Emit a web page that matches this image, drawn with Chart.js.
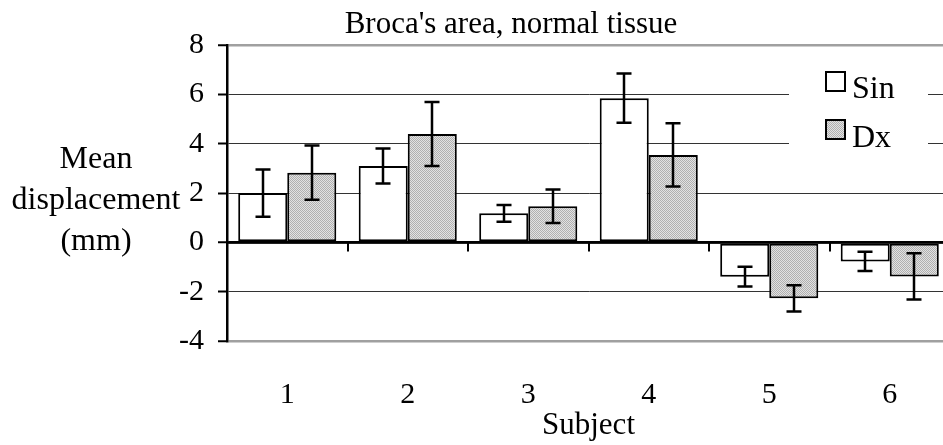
<!DOCTYPE html>
<html><head><meta charset="utf-8">
<script src="https://cdn.jsdelivr.net/npm/chart.js@4.4.0/dist/chart.umd.min.js"></script>
<style>
html,body{margin:0;padding:0;background:#fff;overflow:hidden;width:943px;height:445px}
#wrap{position:relative;width:960px;height:445px}
</style></head>
<body><div id="wrap"><canvas id="c" width="960" height="445"></canvas></div>
<script>
const categories = ['1', '2', '3', '4', '5', '6'];
const sinValues = [2.0, 3.1, 1.18, 5.85, -1.39, -0.77];
const sinErrors = [0.96, 0.71, 0.34, 1.0, 0.4, 0.39];
const dxValues = [2.83, 4.4, 1.47, 3.55, -2.27, -1.38];
const dxErrors = [1.1, 1.3, 0.68, 1.28, 0.53, 0.94];
const yTicks = [-4, -2, 0, 2, 4, 6, 8];
const seriesNames = ['Sin', 'Dx'];
const chartTitle = "Broca's area, normal tissue";
const xTitle = 'Subject';
const yTitleLines = ['Mean', 'displacement', '(mm)'];

const F = "'Liberation Serif', 'Times New Roman', serif";
const canvas = document.getElementById('c');
const ctx = canvas.getContext('2d');

function makePattern() {
  const p = document.createElement('canvas');
  p.width = 2; p.height = 2;
  const g = p.getContext('2d');
  g.fillStyle = '#e2e2e2'; g.fillRect(0, 0, 2, 2);
  g.fillStyle = '#b0b0b0'; g.fillRect(0, 0, 1, 1); g.fillRect(1, 1, 1, 1);
  return ctx.createPattern(p, 'repeat');
}
const dxFill = makePattern();

const errorBars = {
  id: 'errorBars',
  afterDatasetsDraw(chart) {
    const c = chart.ctx, ys = chart.scales.y;
    c.save();
    c.strokeStyle = '#000'; c.lineWidth = 2.5;
    chart.data.datasets.forEach((ds, di) => {
      const meta = chart.getDatasetMeta(di);
      meta.data.forEach((el, i) => {
        const v = ds.data[i], e = ds.errors[i];
        const x = Math.round(el.x);
        const y1 = ys.getPixelForValue(v + e), y2 = ys.getPixelForValue(v - e);
        c.beginPath();
        c.moveTo(x, y1); c.lineTo(x, y2);
        c.moveTo(x - 7.5, y1); c.lineTo(x + 7.5, y1);
        c.moveTo(x - 7.5, y2); c.lineTo(x + 7.5, y2);
        c.stroke();
      });
    });
    c.restore();
  }
};

const axisExtras = {
  id: 'axisExtras',
  afterDatasetsDraw(chart) {
    const c = chart.ctx, xs = chart.scales.x, ys = chart.scales.y;
    const y0 = ys.getPixelForValue(0);
    const w = xs.getPixelForValue(1) - xs.getPixelForValue(0);
    c.save();
    c.strokeStyle = '#000'; c.lineWidth = 2.5;
    c.beginPath();
    c.moveTo(chart.chartArea.left, y0); c.lineTo(chart.chartArea.right, y0);
    c.stroke();
    c.lineWidth = 2;
    c.beginPath();
    for (let i = 1; i <= categories.length; i++) {
      const bx = Math.round(xs.getPixelForValue(i - 1) + w / 2);
      c.moveTo(bx, y0); c.lineTo(bx, y0 + 9);
    }
    c.stroke();
    // y title (horizontal, multi-line)
    c.fillStyle = '#000';
    c.font = "32px " + F;
    c.textAlign = 'center'; c.textBaseline = 'alphabetic';
    const base = [168, 209, 250];
    yTitleLines.forEach((t, k) => c.fillText(t, 96, base[k]));
    c.restore();
  }
};

const legendBox = {
  id: 'legendBox',
  afterDatasetsDraw(chart) {
    const c = chart.ctx;
    c.save();
    c.fillStyle = '#fff';
    c.fillRect(789, 58, 139, 98);
    const rows = [{y: 72, base: 98}, {y: 120, base: 147}];
    chart.data.datasets.forEach((ds, i) => {
      const r = rows[i];
      c.fillStyle = ds.backgroundColor;
      c.fillRect(826, r.y, 19, 19);
      c.strokeStyle = '#000'; c.lineWidth = 2;
      c.strokeRect(826, r.y, 19, 19);
      c.fillStyle = '#000';
      c.font = "32px " + F;
      c.textAlign = 'left'; c.textBaseline = 'alphabetic';
      c.fillText(ds.label, 852, r.base);
    });
    c.restore();
  }
};

new Chart(ctx, {
  type: 'bar',
  data: {
    labels: categories,
    datasets: [
      {label: seriesNames[0], data: sinValues, errors: sinErrors, backgroundColor: '#ffffff', borderColor: '#000', borderWidth: 2, borderSkipped: false},
      {label: seriesNames[1], data: dxValues, errors: dxErrors, backgroundColor: dxFill, borderColor: '#000', borderWidth: 2, borderSkipped: false}
    ]
  },
  options: {
    responsive: false,
    animation: false,
    devicePixelRatio: 1,
    layout: {padding: {left: 72, right: 10, top: 0, bottom: 0}},
    datasets: {bar: {categoryPercentage: 0.814, barPercentage: 1}},
    plugins: {
      legend: {display: false},
      tooltip: {enabled: false},
      title: {display: true, text: chartTitle, color: '#000', font: {family: F, size: 31, weight: 'normal', lineHeight: 1.2}, padding: {top: 6, bottom: 2}}
    },
    scales: {
      x: {
        grid: {display: false, drawTicks: false, tickLength: 0},
        border: {display: false},
        ticks: {color: '#000', font: {family: F, size: 30}, padding: 36, maxRotation: 0},
        title: {display: true, text: xTitle, color: '#000', font: {family: F, size: 31, lineHeight: 1.2}, padding: {top: 0, bottom: 1}},
        afterFit(s) { s.height = 104; }
      },
      y: {
        min: -4, max: 8,
        afterBuildTicks(s) { s.ticks = yTicks.map(v => ({value: v})); },
        ticks: {color: '#000', font: {family: F, size: 30}, padding: 14},
        grid: {
          color: c => (c.tick && (c.tick.value === 8 || c.tick.value === -4)) ? '#a0a0a0' : (c.tick && c.tick.value === 0 ? '#000' : '#333'),
          lineWidth: c => (c.tick && (c.tick.value === 8 || c.tick.value === -4 || c.tick.value === 0)) ? 2.5 : 1,
          tickColor: '#000', tickWidth: 2, tickLength: 9
        },
        border: {color: '#000', width: 2.5},
        afterFit(s) { s.width = 155; }
      }
    }
  },
  plugins: [errorBars, axisExtras, legendBox]
});
</script>
</body></html>
